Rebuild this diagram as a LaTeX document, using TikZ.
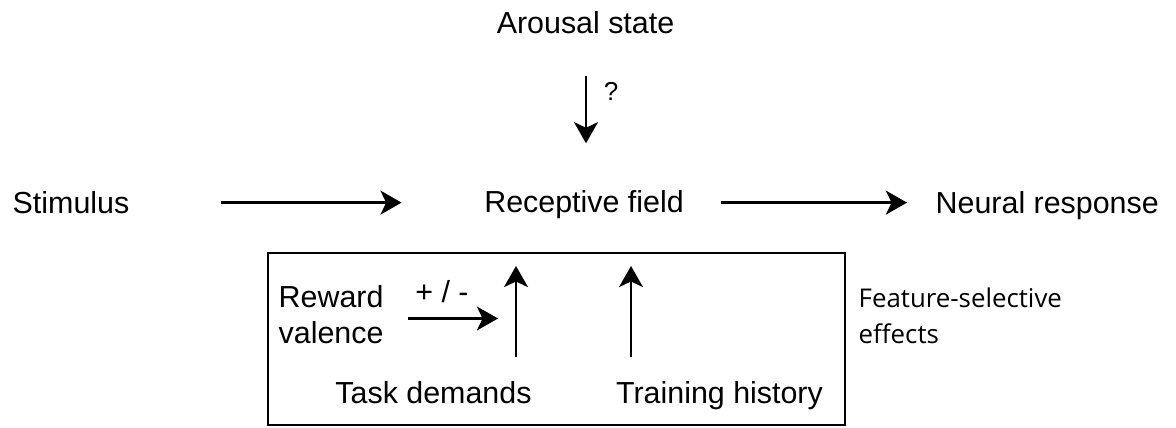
\documentclass[tikz,border=0pt]{standalone}
\usepackage{fontspec}
\setmainfont{Liberation Sans}
\newfontfamily\featfont{Open Sans}
\usepackage{tikz}
\usetikzlibrary{arrows.meta}
\usetikzlibrary{positioning}

\begin{document}
\begin{tikzpicture}[
    lbl/.style={inner sep=0pt, font=\fontsize{8.65}{10.2}\selectfont},
    arr/.style={line width=0.7pt, -{Stealth[length=6pt, width=6.8pt, inset=1.6pt]}}
  ]
        \useasboundingbox (0,0) rectangle (11.76,4.28);
        % main row
        \node[lbl, anchor=base] (arousal) at (5.855,3.94) {Arousal state};
        \node[lbl, anchor=base west] (stim) at (0.12,2.145) {Stimulus};
        \node[lbl, anchor=base] (rf) at (5.84,2.15) {Receptive field};
        \node[lbl, anchor=base west] (neural) at (9.35,2.145) {Neural response};
        \node[lbl, anchor=base, font=\fontsize{7.4}{9}\selectfont] (query) at (6.11,3.27) {?};
        \draw[arr, shorten <=0.41cm, shorten >=0.47cm] (arousal.south -| 5.86,0) -- (5.86,0 |- rf.north);
        \draw[arr, shorten <=0.91cm, shorten >=0.82cm] (stim.east) -- (stim.east -| rf.west);
        \draw[arr, shorten <=0.37cm, shorten >=0.28cm] (stim.east -| rf.east) -- (stim.east -| neural.west);
        % feature-selective box
        \draw[line width=0.65pt] (2.68,1.75) rectangle (8.45,0.03);
        \node[lbl, anchor=base] (taskdem) at (4.335,0.245) {Task demands};
        \node[lbl, anchor=base] (training) at (7.195,0.245) {Training history};
        \node[lbl, anchor=west] (reward) at (2.78,1.095) {\begin{tabular}{@{}l@{}} Reward \\ valence \end{tabular}};
        \node[lbl, anchor=base] (valsign) at (4.42,1.25) {+ / -};
        \coordinate (taskin) at (5.16,0.71);
        \coordinate (trainin) at (6.31,0.71);
        \draw[arr, shorten >=0.46cm] (taskin) -- (taskin |- rf.south);
        \draw[arr, shorten >=0.46cm] (trainin) -- (trainin |- rf.south);
        \draw[arr, shorten <=0.24cm, shorten >=0.18cm] (reward.east) -- (reward.east -| taskin);
        \node[anchor=west, inner sep=0pt, font=\featfont\fontsize{7.35}{10}\selectfont] (feature) at (8.58,1.095) {\begin{tabular}{@{}l@{}} Feature-selective \\ effects \end{tabular}};
\end{tikzpicture}
\end{document}
